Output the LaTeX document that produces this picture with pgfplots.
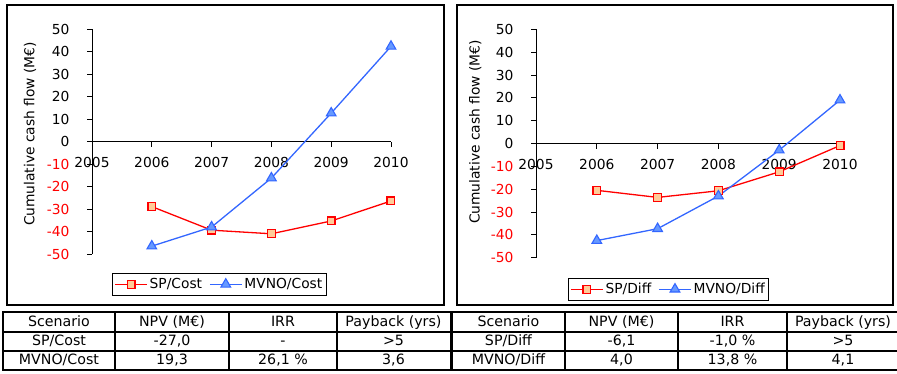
\documentclass[border=0pt]{standalone}
\usepackage{fontspec}
\setmainfont{DejaVu Sans}
\usepackage{pgfplots}
\pgfplotsset{compat=1.18}
\definecolor{myred}{HTML}{FF0000}
\definecolor{myblue}{HTML}{3366FF}
\definecolor{sqfill}{HTML}{FFCC99}
\definecolor{trifill}{HTML}{6699FF}
\pgfplotsset{
  mystyle/.style={
    scale only axis,
    anchor=south west,
    clip=false,
    enlargelimits=false,
    xmin=2005,xmax=2010,ymin=-50,ymax=50,
    axis x line=middle, axis y line=left,
    axis line style={-, line width=0.8pt, black},
    hide obscured x ticks=false,
    hide obscured y ticks=false,
    xtick={2005,2006,2007,2008,2009,2010},
    xticklabels={2005,2006,2007,2008,2009,2010},
    ytick={-50,-40,-30,-20,-10,0,10,20,30,40,50},
    yticklabels={\textcolor{red}{-50},\textcolor{red}{-40},\textcolor{red}{-30},\textcolor{red}{-20},\textcolor{red}{-10},0,10,20,30,40,50},
    tick align=outside,
    major tick length=5pt,
    tick style={black, line width=0.8pt},
    font=\fontsize{13.8}{16}\selectfont,
    yticklabel style={xshift=-14pt},
    xticklabel style={yshift=-7pt},
    ylabel={Cumulative cash flow (M€)},
    legend columns=2,
    legend style={draw=black, line width=1pt, inner xsep=2pt, inner ysep=3pt,
      nodes={inner sep=2pt},
      /tikz/every even column/.append style={column sep=5pt},
      font=\fontsize{13.8}{16}\selectfont},
    legend image code/.code={\draw[mark repeat=2,mark phase=2,##1] plot coordinates {(0pt,0pt) (16pt,0pt) (32pt,0pt)};},
  },
  spstyle/.style={color=myred, line width=1.3pt, mark=square*, mark size=3.9pt, mark options={fill=sqfill, draw=myred, line width=1.2pt, solid}},
  mvstyle/.style={color=myblue, line width=1.3pt, mark=triangle*, mark size=5.6pt, mark options={fill=trifill, draw=myblue, line width=1.1pt, solid}},
}
\begin{document}
\begin{tikzpicture}
\useasboundingbox (0,0) rectangle (897pt,-373pt);
% panel frames
\draw[line width=1.2pt] (7pt,-5pt) rectangle (444pt,-305pt);
\draw[line width=1.2pt] (457pt,-5pt) rectangle (893pt,-305pt);

\begin{axis}[mystyle, at={(92pt,-254pt)}, width=299pt, height=224.7pt,
  ylabel style={at={(axis description cs:-0.207,0.534)}, anchor=center},
  legend style={at={(axis description cs:0.426,-0.084)}, anchor=north}]
\addplot[spstyle] coordinates {(2006,-28.9) (2007,-39.4) (2008,-41.0) (2009,-35.3) (2010,-26.4)};
\addlegendentry{SP/Cost}
\addplot[mvstyle] coordinates {(2006,-46.5) (2007,-38.0) (2008,-16.2) (2009,12.7) (2010,42.4)};
\addlegendentry{MVNO/Cost}
\end{axis}

\begin{axis}[mystyle, at={(536pt,-257.7pt)}, width=304pt, height=228.4pt,
  ylabel style={at={(axis description cs:-0.2,0.55)}, anchor=center},
  legend style={at={(axis description cs:0.436,-0.0876)}, anchor=north}]
\addplot[spstyle] coordinates {(2006,-20.5) (2007,-23.6) (2008,-20.7) (2009,-12.4) (2010,-0.9)};
\addlegendentry{SP/Diff}
\addplot[mvstyle] coordinates {(2006,-42.5) (2007,-37.3) (2008,-23.0) (2009,-2.9) (2010,19.0)};
\addlegendentry{MVNO/Diff}
\end{axis}

% table
\begin{scope}[x=1pt,y=-1pt]
\foreach \yy in {312,332,351,370} \draw[line width=1.8pt] (2,\yy) -- (900,\yy);
\foreach \xx in {3,115,229,337,565,678,787} \draw[line width=1.8pt] (\xx,311) -- (\xx,371);
\draw[line width=3.5pt] (451.5,311) -- (451.5,371);
\begin{scope}[every node/.style={font=\fontsize{14.2}{16}\selectfont, anchor=base, inner sep=0pt}]
\node at (59,326.7) {Scenario};
\node at (172,326.7) {NPV (M€)};
\node at (283,326.7) {IRR};
\node at (393.5,326.7) {Payback (yrs)};
\node at (59,345.5) {SP/Cost};
\node at (172,345.5) {-27,0};
\node at (283,345.5) {-};
\node at (393.5,345.5) {>5};
\node at (59,364.5) {MVNO/Cost};
\node at (172,364.5) {19,3};
\node at (283,364.5) {26,1 \%};
\node at (393.5,364.5) {3,6};
\node at (508.5,326.7) {Scenario};
\node at (621.5,326.7) {NPV (M€)};
\node at (732.5,326.7) {IRR};
\node at (843,326.7) {Payback (yrs)};
\node at (508.5,345.5) {SP/Diff};
\node at (621.5,345.5) {-6,1};
\node at (732.5,345.5) {-1,0 \%};
\node at (843,345.5) {>5};
\node at (508.5,364.5) {MVNO/Diff};
\node at (621.5,364.5) {4,0};
\node at (732.5,364.5) {13,8 \%};
\node at (843,364.5) {4,1};
\end{scope}
\end{scope}
\end{tikzpicture}
\end{document}
